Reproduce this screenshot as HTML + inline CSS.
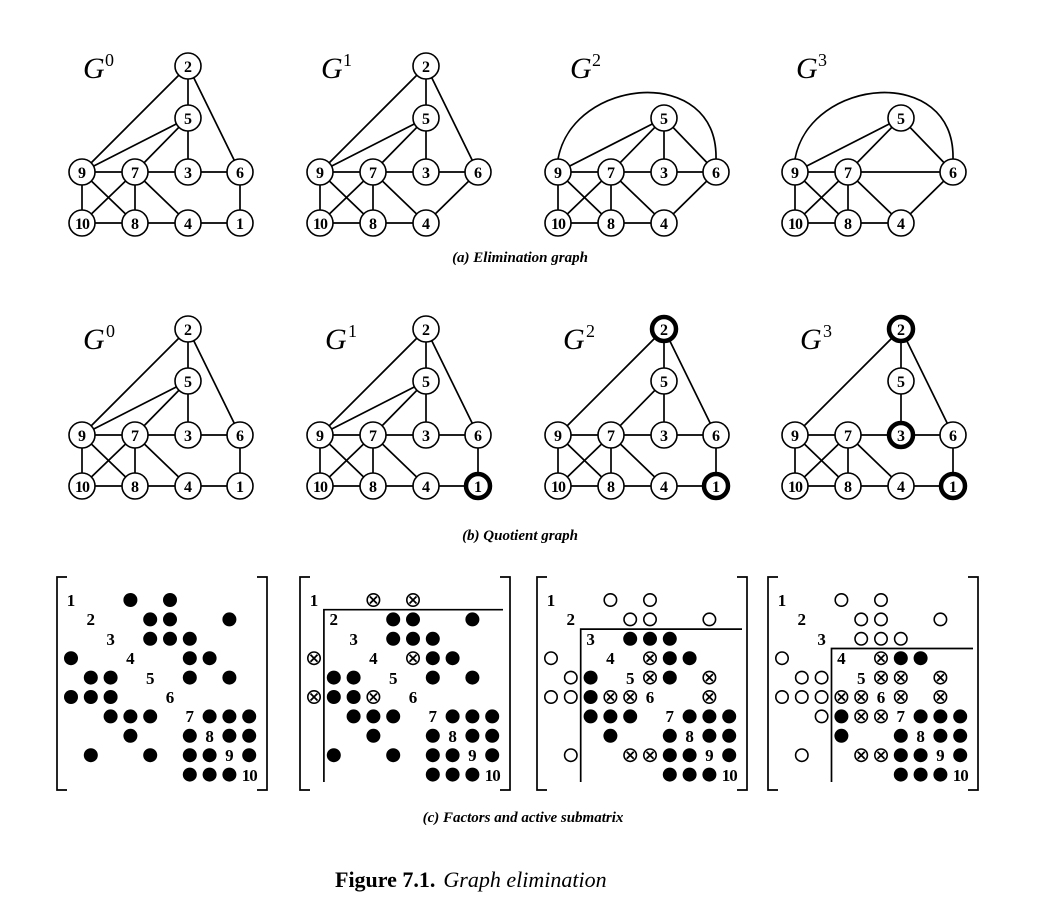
<!DOCTYPE html>
<html><head><meta charset="utf-8"><style>
html,body{margin:0;padding:0;background:#fff;}
svg{display:block;}
.e{fill:none;stroke:#000;stroke-width:1.7;}
.n{fill:#fff;stroke:#000;stroke-width:1.6;}
.b{fill:#fff;stroke:#000;stroke-width:4.5;}
.t{font-family:"Liberation Serif",serif;font-size:16px;text-anchor:middle;fill:#000;font-weight:bold;}
.m{font-family:"Liberation Serif",serif;font-size:17px;text-anchor:middle;fill:#000;font-weight:bold;}
.lab{font-family:"Liberation Serif",serif;font-style:italic;font-size:30px;fill:#000;}
.sup{font-family:"Liberation Serif",serif;font-size:18px;fill:#000;}
.cap{font-family:"Liberation Serif",serif;font-style:italic;font-weight:bold;font-size:15px;text-anchor:middle;fill:#000;}
</style></head><body>
<svg width="1038" height="915" viewBox="0 0 1038 915" xmlns="http://www.w3.org/2000/svg">
<defs>
<g id="f"><circle r="7" fill="#000"/></g>
<g id="o"><circle r="6.2" fill="none" stroke="#000" stroke-width="1.6"/></g>
<g id="x"><circle r="6.2" fill="none" stroke="#000" stroke-width="1.6"/><path d="M-3.5-3.5L3.5 3.5M3.5-3.5L-3.5 3.5" stroke="#000" stroke-width="1.8"/></g>
</defs>

<g transform="translate(82,172)">
<text class="lab" x="1" y="-94">G</text><text class="sup" x="23" y="-106">0</text>
<path class="e" d="M106-106L0 0M106-106V-54M106-106L158 0M106-54L0 0M106-54L53 0M106-54V0M0 0H158M158 0V51M0 0V51M0 0L53 51M53 0L0 51M53 0V51M53 0L106 51M0 51H158"/>
<circle class="n" cx="106" cy="-106" r="13"/><text class="t" x="106" y="-100">2</text>
<circle class="n" cx="106" cy="-54" r="13"/><text class="t" x="106" y="-48">5</text>
<circle class="n" cx="0" cy="0" r="13"/><text class="t" x="0" y="6">9</text>
<circle class="n" cx="53" cy="0" r="13"/><text class="t" x="53" y="6">7</text>
<circle class="n" cx="106" cy="0" r="13"/><text class="t" x="106" y="6">3</text>
<circle class="n" cx="158" cy="0" r="13"/><text class="t" x="158" y="6">6</text>
<circle class="n" cx="0" cy="51" r="13"/><text class="t" x="0" y="57" style="letter-spacing:-1px">10</text>
<circle class="n" cx="53" cy="51" r="13"/><text class="t" x="53" y="57">8</text>
<circle class="n" cx="106" cy="51" r="13"/><text class="t" x="106" y="57">4</text>
<circle class="n" cx="158" cy="51" r="13"/><text class="t" x="158" y="57">1</text>
</g>
<g transform="translate(320,172)">
<text class="lab" x="1" y="-94">G</text><text class="sup" x="23" y="-106">1</text>
<path class="e" d="M106-106L0 0M106-106V-54M106-106L158 0M106-54L0 0M106-54L53 0M106-54V0M0 0H158M158 0L106 51M0 0V51M0 0L53 51M53 0L0 51M53 0V51M53 0L106 51M0 51H106"/>
<circle class="n" cx="106" cy="-106" r="13"/><text class="t" x="106" y="-100">2</text>
<circle class="n" cx="106" cy="-54" r="13"/><text class="t" x="106" y="-48">5</text>
<circle class="n" cx="0" cy="0" r="13"/><text class="t" x="0" y="6">9</text>
<circle class="n" cx="53" cy="0" r="13"/><text class="t" x="53" y="6">7</text>
<circle class="n" cx="106" cy="0" r="13"/><text class="t" x="106" y="6">3</text>
<circle class="n" cx="158" cy="0" r="13"/><text class="t" x="158" y="6">6</text>
<circle class="n" cx="0" cy="51" r="13"/><text class="t" x="0" y="57" style="letter-spacing:-1px">10</text>
<circle class="n" cx="53" cy="51" r="13"/><text class="t" x="53" y="57">8</text>
<circle class="n" cx="106" cy="51" r="13"/><text class="t" x="106" y="57">4</text>
</g>
<g transform="translate(558,172)">
<text class="lab" x="12" y="-94">G</text><text class="sup" x="34" y="-106">2</text>
<path class="e" d="M0-13C15-95 160-108 158-13M106-54L0 0M106-54L53 0M106-54V0M106-54L158 0M0 0H158M158 0L106 51M0 0V51M0 0L53 51M53 0L0 51M53 0V51M53 0L106 51M0 51H106"/>
<circle class="n" cx="106" cy="-54" r="13"/><text class="t" x="106" y="-48">5</text>
<circle class="n" cx="0" cy="0" r="13"/><text class="t" x="0" y="6">9</text>
<circle class="n" cx="53" cy="0" r="13"/><text class="t" x="53" y="6">7</text>
<circle class="n" cx="106" cy="0" r="13"/><text class="t" x="106" y="6">3</text>
<circle class="n" cx="158" cy="0" r="13"/><text class="t" x="158" y="6">6</text>
<circle class="n" cx="0" cy="51" r="13"/><text class="t" x="0" y="57" style="letter-spacing:-1px">10</text>
<circle class="n" cx="53" cy="51" r="13"/><text class="t" x="53" y="57">8</text>
<circle class="n" cx="106" cy="51" r="13"/><text class="t" x="106" y="57">4</text>
</g>
<g transform="translate(795,172)">
<text class="lab" x="1" y="-94">G</text><text class="sup" x="23" y="-106">3</text>
<path class="e" d="M0-13C15-95 160-108 158-13M106-54L0 0M106-54L53 0M106-54L158 0M0 0H158M158 0L106 51M0 0V51M0 0L53 51M53 0L0 51M53 0V51M53 0L106 51M0 51H106"/>
<circle class="n" cx="106" cy="-54" r="13"/><text class="t" x="106" y="-48">5</text>
<circle class="n" cx="0" cy="0" r="13"/><text class="t" x="0" y="6">9</text>
<circle class="n" cx="53" cy="0" r="13"/><text class="t" x="53" y="6">7</text>
<circle class="n" cx="158" cy="0" r="13"/><text class="t" x="158" y="6">6</text>
<circle class="n" cx="0" cy="51" r="13"/><text class="t" x="0" y="57" style="letter-spacing:-1px">10</text>
<circle class="n" cx="53" cy="51" r="13"/><text class="t" x="53" y="57">8</text>
<circle class="n" cx="106" cy="51" r="13"/><text class="t" x="106" y="57">4</text>
</g>
<text class="cap" x="520" y="262">(a) Elimination graph</text>

<g transform="translate(82,435)">
<text class="lab" x="1" y="-86">G</text><text class="sup" x="24" y="-98">0</text>
<path class="e" d="M106-106L0 0M106-106V-54M106-106L158 0M106-54L0 0M106-54L53 0M106-54V0M0 0H158M158 0V51M0 0V51M0 0L53 51M53 0L0 51M53 0V51M53 0L106 51M0 51H158"/>
<circle class="n" cx="106" cy="-106" r="13"/><text class="t" x="106" y="-100">2</text>
<circle class="n" cx="106" cy="-54" r="13"/><text class="t" x="106" y="-48">5</text>
<circle class="n" cx="0" cy="0" r="13"/><text class="t" x="0" y="6">9</text>
<circle class="n" cx="53" cy="0" r="13"/><text class="t" x="53" y="6">7</text>
<circle class="n" cx="106" cy="0" r="13"/><text class="t" x="106" y="6">3</text>
<circle class="n" cx="158" cy="0" r="13"/><text class="t" x="158" y="6">6</text>
<circle class="n" cx="0" cy="51" r="13"/><text class="t" x="0" y="57" style="letter-spacing:-1px">10</text>
<circle class="n" cx="53" cy="51" r="13"/><text class="t" x="53" y="57">8</text>
<circle class="n" cx="106" cy="51" r="13"/><text class="t" x="106" y="57">4</text>
<circle class="n" cx="158" cy="51" r="13"/><text class="t" x="158" y="57">1</text>
</g>
<g transform="translate(320,435)">
<text class="lab" x="5" y="-86">G</text><text class="sup" x="28" y="-98">1</text>
<path class="e" d="M106-106L0 0M106-106V-54M106-106L158 0M106-54L0 0M106-54L53 0M106-54V0M0 0H158M158 0V51M0 0V51M0 0L53 51M53 0L0 51M53 0V51M53 0L106 51M0 51H158"/>
<circle class="n" cx="106" cy="-106" r="13"/><text class="t" x="106" y="-100">2</text>
<circle class="n" cx="106" cy="-54" r="13"/><text class="t" x="106" y="-48">5</text>
<circle class="n" cx="0" cy="0" r="13"/><text class="t" x="0" y="6">9</text>
<circle class="n" cx="53" cy="0" r="13"/><text class="t" x="53" y="6">7</text>
<circle class="n" cx="106" cy="0" r="13"/><text class="t" x="106" y="6">3</text>
<circle class="n" cx="158" cy="0" r="13"/><text class="t" x="158" y="6">6</text>
<circle class="n" cx="0" cy="51" r="13"/><text class="t" x="0" y="57" style="letter-spacing:-1px">10</text>
<circle class="n" cx="53" cy="51" r="13"/><text class="t" x="53" y="57">8</text>
<circle class="n" cx="106" cy="51" r="13"/><text class="t" x="106" y="57">4</text>
<circle class="b" cx="158" cy="51" r="12"/><text class="t" x="158" y="57">1</text>
</g>
<g transform="translate(558,435)">
<text class="lab" x="5" y="-86">G</text><text class="sup" x="28" y="-98">2</text>
<path class="e" d="M106-106L0 0M106-106V-54M106-106L158 0M106-54L53 0M106-54V0M0 0H158M158 0V51M0 0V51M0 0L53 51M53 0L0 51M53 0V51M53 0L106 51M0 51H158"/>
<circle class="b" cx="106" cy="-106" r="12"/><text class="t" x="106" y="-100">2</text>
<circle class="n" cx="106" cy="-54" r="13"/><text class="t" x="106" y="-48">5</text>
<circle class="n" cx="0" cy="0" r="13"/><text class="t" x="0" y="6">9</text>
<circle class="n" cx="53" cy="0" r="13"/><text class="t" x="53" y="6">7</text>
<circle class="n" cx="106" cy="0" r="13"/><text class="t" x="106" y="6">3</text>
<circle class="n" cx="158" cy="0" r="13"/><text class="t" x="158" y="6">6</text>
<circle class="n" cx="0" cy="51" r="13"/><text class="t" x="0" y="57" style="letter-spacing:-1px">10</text>
<circle class="n" cx="53" cy="51" r="13"/><text class="t" x="53" y="57">8</text>
<circle class="n" cx="106" cy="51" r="13"/><text class="t" x="106" y="57">4</text>
<circle class="b" cx="158" cy="51" r="12"/><text class="t" x="158" y="57">1</text>
</g>
<g transform="translate(795,435)">
<text class="lab" x="5" y="-86">G</text><text class="sup" x="28" y="-98">3</text>
<path class="e" d="M106-106L0 0M106-106V-54M106-106L158 0M106-54V0M0 0H158M158 0V51M0 0V51M0 0L53 51M53 0L0 51M53 0V51M53 0L106 51M0 51H158"/>
<circle class="b" cx="106" cy="-106" r="12"/><text class="t" x="106" y="-100">2</text>
<circle class="n" cx="106" cy="-54" r="13"/><text class="t" x="106" y="-48">5</text>
<circle class="n" cx="0" cy="0" r="13"/><text class="t" x="0" y="6">9</text>
<circle class="n" cx="53" cy="0" r="13"/><text class="t" x="53" y="6">7</text>
<circle class="b" cx="106" cy="0" r="12"/><text class="t" x="106" y="6">3</text>
<circle class="n" cx="158" cy="0" r="13"/><text class="t" x="158" y="6">6</text>
<circle class="n" cx="0" cy="51" r="13"/><text class="t" x="0" y="57" style="letter-spacing:-1px">10</text>
<circle class="n" cx="53" cy="51" r="13"/><text class="t" x="53" y="57">8</text>
<circle class="n" cx="106" cy="51" r="13"/><text class="t" x="106" y="57">4</text>
<circle class="b" cx="158" cy="51" r="12"/><text class="t" x="158" y="57">1</text>
</g>
<text class="cap" x="520" y="540">(b) Quotient graph</text>

<g transform="translate(71,600)">
<path class="e" stroke-width="2" d="M-4-23H-14V190H-4M186-23H196V190H186"/>
<text class="m" x="0" y="6">1</text><text class="m" x="19.8" y="25">2</text><text class="m" x="39.6" y="45">3</text><text class="m" x="59.4" y="64">4</text><text class="m" x="79.2" y="84">5</text><text class="m" x="99" y="103">6</text><text class="m" x="118.8" y="122">7</text><text class="m" x="138.6" y="142">8</text><text class="m" x="158.4" y="161">9</text><text class="m" x="178.2" y="181" style="letter-spacing:-1px">10</text>
<use href="#f" x="59.4" y="0"/><use href="#f" x="99" y="0"/>
<use href="#f" x="79.2" y="19.4"/><use href="#f" x="99" y="19.4"/><use href="#f" x="158.4" y="19.4"/>
<use href="#f" x="79.2" y="38.8"/><use href="#f" x="99" y="38.8"/><use href="#f" x="118.8" y="38.8"/>
<use href="#f" x="0" y="58.2"/><use href="#f" x="118.8" y="58.2"/><use href="#f" x="138.6" y="58.2"/>
<use href="#f" x="19.8" y="77.6"/><use href="#f" x="39.6" y="77.6"/><use href="#f" x="118.8" y="77.6"/><use href="#f" x="158.4" y="77.6"/>
<use href="#f" x="0" y="97"/><use href="#f" x="19.8" y="97"/><use href="#f" x="39.6" y="97"/>
<use href="#f" x="39.6" y="116.4"/><use href="#f" x="59.4" y="116.4"/><use href="#f" x="79.2" y="116.4"/><use href="#f" x="138.6" y="116.4"/><use href="#f" x="158.4" y="116.4"/><use href="#f" x="178.2" y="116.4"/>
<use href="#f" x="59.4" y="135.8"/><use href="#f" x="118.8" y="135.8"/><use href="#f" x="158.4" y="135.8"/><use href="#f" x="178.2" y="135.8"/>
<use href="#f" x="19.8" y="155.2"/><use href="#f" x="79.2" y="155.2"/><use href="#f" x="118.8" y="155.2"/><use href="#f" x="138.6" y="155.2"/><use href="#f" x="178.2" y="155.2"/>
<use href="#f" x="118.8" y="174.6"/><use href="#f" x="138.6" y="174.6"/><use href="#f" x="158.4" y="174.6"/>
</g>
<g transform="translate(314,600)">
<path class="e" stroke-width="2" d="M-4-23H-14V190H-4M186-23H196V190H186"/>
<path class="e" d="M9.9 182V9.7H189"/>
<text class="m" x="0" y="6">1</text><text class="m" x="19.8" y="25">2</text><text class="m" x="39.6" y="45">3</text><text class="m" x="59.4" y="64">4</text><text class="m" x="79.2" y="84">5</text><text class="m" x="99" y="103">6</text><text class="m" x="118.8" y="122">7</text><text class="m" x="138.6" y="142">8</text><text class="m" x="158.4" y="161">9</text><text class="m" x="178.2" y="181" style="letter-spacing:-1px">10</text>
<use href="#x" x="59.4" y="0"/><use href="#x" x="99" y="0"/>
<use href="#f" x="79.2" y="19.4"/><use href="#f" x="99" y="19.4"/><use href="#f" x="158.4" y="19.4"/>
<use href="#f" x="79.2" y="38.8"/><use href="#f" x="99" y="38.8"/><use href="#f" x="118.8" y="38.8"/>
<use href="#x" x="0" y="58.2"/><use href="#x" x="99" y="58.2"/><use href="#f" x="118.8" y="58.2"/><use href="#f" x="138.6" y="58.2"/>
<use href="#f" x="19.8" y="77.6"/><use href="#f" x="39.6" y="77.6"/><use href="#f" x="118.8" y="77.6"/><use href="#f" x="158.4" y="77.6"/>
<use href="#x" x="0" y="97"/><use href="#f" x="19.8" y="97"/><use href="#f" x="39.6" y="97"/><use href="#x" x="59.4" y="97"/>
<use href="#f" x="39.6" y="116.4"/><use href="#f" x="59.4" y="116.4"/><use href="#f" x="79.2" y="116.4"/><use href="#f" x="138.6" y="116.4"/><use href="#f" x="158.4" y="116.4"/><use href="#f" x="178.2" y="116.4"/>
<use href="#f" x="59.4" y="135.8"/><use href="#f" x="118.8" y="135.8"/><use href="#f" x="158.4" y="135.8"/><use href="#f" x="178.2" y="135.8"/>
<use href="#f" x="19.8" y="155.2"/><use href="#f" x="79.2" y="155.2"/><use href="#f" x="118.8" y="155.2"/><use href="#f" x="138.6" y="155.2"/><use href="#f" x="178.2" y="155.2"/>
<use href="#f" x="118.8" y="174.6"/><use href="#f" x="138.6" y="174.6"/><use href="#f" x="158.4" y="174.6"/>
</g>
<g transform="translate(551,600)">
<path class="e" stroke-width="2" d="M-4-23H-14V190H-4M186-23H196V190H186"/>
<path class="e" d="M29.7 182V29.1H191"/>
<text class="m" x="0" y="6">1</text><text class="m" x="19.8" y="25">2</text><text class="m" x="39.6" y="45">3</text><text class="m" x="59.4" y="64">4</text><text class="m" x="79.2" y="84">5</text><text class="m" x="99" y="103">6</text><text class="m" x="118.8" y="122">7</text><text class="m" x="138.6" y="142">8</text><text class="m" x="158.4" y="161">9</text><text class="m" x="178.2" y="181" style="letter-spacing:-1px">10</text>
<use href="#o" x="59.4" y="0"/><use href="#o" x="99" y="0"/>
<use href="#o" x="79.2" y="19.4"/><use href="#o" x="99" y="19.4"/><use href="#o" x="158.4" y="19.4"/>
<use href="#f" x="79.2" y="38.8"/><use href="#f" x="99" y="38.8"/><use href="#f" x="118.8" y="38.8"/>
<use href="#o" x="0" y="58.2"/><use href="#x" x="99" y="58.2"/><use href="#f" x="118.8" y="58.2"/><use href="#f" x="138.6" y="58.2"/>
<use href="#o" x="19.8" y="77.6"/><use href="#f" x="39.6" y="77.6"/><use href="#x" x="99" y="77.6"/><use href="#f" x="118.8" y="77.6"/><use href="#x" x="158.4" y="77.6"/>
<use href="#o" x="0" y="97"/><use href="#o" x="19.8" y="97"/><use href="#f" x="39.6" y="97"/><use href="#x" x="59.4" y="97"/><use href="#x" x="79.2" y="97"/><use href="#x" x="158.4" y="97"/>
<use href="#f" x="39.6" y="116.4"/><use href="#f" x="59.4" y="116.4"/><use href="#f" x="79.2" y="116.4"/><use href="#f" x="138.6" y="116.4"/><use href="#f" x="158.4" y="116.4"/><use href="#f" x="178.2" y="116.4"/>
<use href="#f" x="59.4" y="135.8"/><use href="#f" x="118.8" y="135.8"/><use href="#f" x="158.4" y="135.8"/><use href="#f" x="178.2" y="135.8"/>
<use href="#o" x="19.8" y="155.2"/><use href="#x" x="79.2" y="155.2"/><use href="#x" x="99" y="155.2"/><use href="#f" x="118.8" y="155.2"/><use href="#f" x="138.6" y="155.2"/><use href="#f" x="178.2" y="155.2"/>
<use href="#f" x="118.8" y="174.6"/><use href="#f" x="138.6" y="174.6"/><use href="#f" x="158.4" y="174.6"/>
</g>
<g transform="translate(782,600)">
<path class="e" stroke-width="2" d="M-4-23H-14V190H-4M186-23H196V190H186"/>
<path class="e" d="M49.5 182V48.5H191"/>
<text class="m" x="0" y="6">1</text><text class="m" x="19.8" y="25">2</text><text class="m" x="39.6" y="45">3</text><text class="m" x="59.4" y="64">4</text><text class="m" x="79.2" y="84">5</text><text class="m" x="99" y="103">6</text><text class="m" x="118.8" y="122">7</text><text class="m" x="138.6" y="142">8</text><text class="m" x="158.4" y="161">9</text><text class="m" x="178.2" y="181" style="letter-spacing:-1px">10</text>
<use href="#o" x="59.4" y="0"/><use href="#o" x="99" y="0"/>
<use href="#o" x="79.2" y="19.4"/><use href="#o" x="99" y="19.4"/><use href="#o" x="158.4" y="19.4"/>
<use href="#o" x="79.2" y="38.8"/><use href="#o" x="99" y="38.8"/><use href="#o" x="118.8" y="38.8"/>
<use href="#o" x="0" y="58.2"/><use href="#x" x="99" y="58.2"/><use href="#f" x="118.8" y="58.2"/><use href="#f" x="138.6" y="58.2"/>
<use href="#o" x="19.8" y="77.6"/><use href="#o" x="39.6" y="77.6"/><use href="#x" x="99" y="77.6"/><use href="#x" x="118.8" y="77.6"/><use href="#x" x="158.4" y="77.6"/>
<use href="#o" x="0" y="97"/><use href="#o" x="19.8" y="97"/><use href="#o" x="39.6" y="97"/><use href="#x" x="59.4" y="97"/><use href="#x" x="79.2" y="97"/><use href="#x" x="118.8" y="97"/><use href="#x" x="158.4" y="97"/>
<use href="#o" x="39.6" y="116.4"/><use href="#f" x="59.4" y="116.4"/><use href="#x" x="79.2" y="116.4"/><use href="#x" x="99" y="116.4"/><use href="#f" x="138.6" y="116.4"/><use href="#f" x="158.4" y="116.4"/><use href="#f" x="178.2" y="116.4"/>
<use href="#f" x="59.4" y="135.8"/><use href="#f" x="118.8" y="135.8"/><use href="#f" x="158.4" y="135.8"/><use href="#f" x="178.2" y="135.8"/>
<use href="#o" x="19.8" y="155.2"/><use href="#x" x="79.2" y="155.2"/><use href="#x" x="99" y="155.2"/><use href="#f" x="118.8" y="155.2"/><use href="#f" x="138.6" y="155.2"/><use href="#f" x="178.2" y="155.2"/>
<use href="#f" x="118.8" y="174.6"/><use href="#f" x="138.6" y="174.6"/><use href="#f" x="158.4" y="174.6"/>
</g>
<text class="cap" x="523" y="822">(c) Factors and active submatrix</text>

<text x="335" y="887" style="font-family:'Liberation Serif',serif;font-size:22px;fill:#000"><tspan font-weight="bold">Figure 7.1.</tspan><tspan font-style="italic" dx="8">Graph elimination</tspan></text>
</svg>
</body></html>
